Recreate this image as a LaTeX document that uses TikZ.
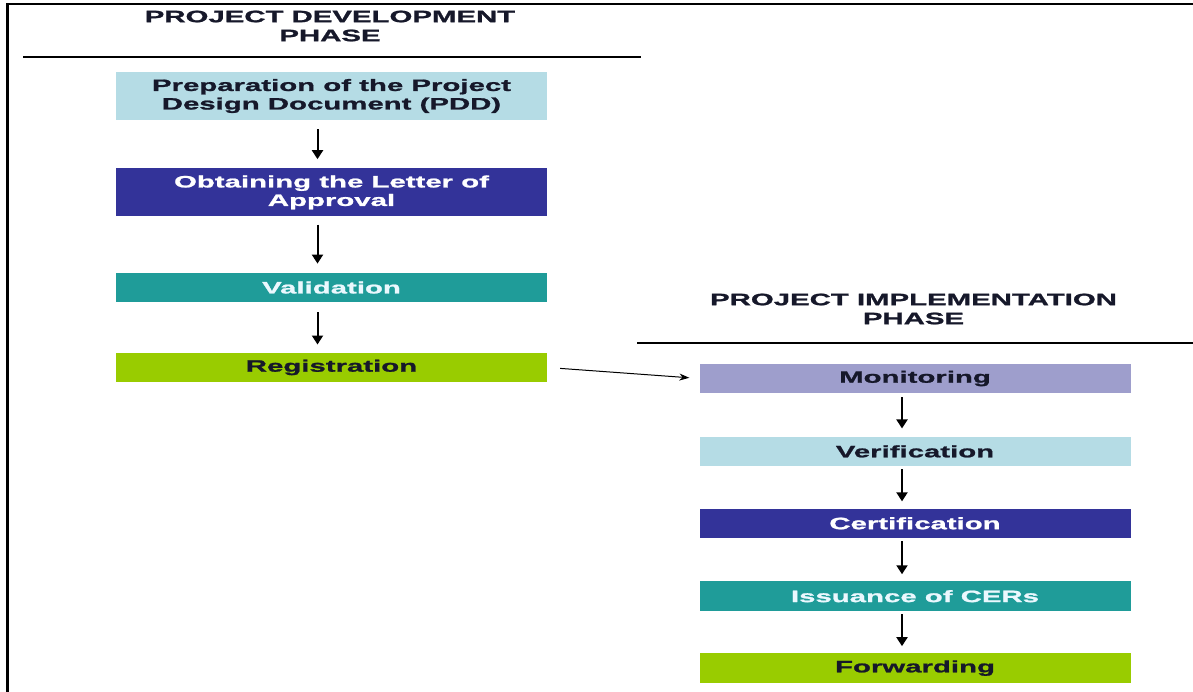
\documentclass[tikz,border=0pt]{standalone}
\usepackage{fontspec}
\newfontfamily\diagfont{Liberation Sans}[FakeStretch=1.78, FakeBold=1.3]
\usepackage{xcolor}
\usepackage{tikz}
\usetikzlibrary{arrows.meta, positioning}

\definecolor{paleblue}{HTML}{B5DCE5}
\definecolor{deepblue}{HTML}{333399}
\definecolor{tealbox}{HTML}{1F9C99}
\definecolor{limebox}{HTML}{99CC00}
\definecolor{lavender}{HTML}{9E9ECC}
\definecolor{darktext}{HTML}{16182A}

\begin{document}
\begin{tikzpicture}[
    x=1pt, y=-1pt,
    box/.style={rectangle, minimum width=431pt, minimum height=29.5pt, inner sep=0pt, align=center,
        font=\diagfont\bfseries\fontsize{16.5}{18.5}\selectfont},
    title/.style={align=center, text=darktext, font=\diagfont\bfseries\fontsize{16.5}{19}\selectfont},
    flow/.style={-{Triangle[length=9pt, width=11pt]}, line width=2pt},
    link/.style={-{Stealth[length=10pt, width=7pt]}, line width=1pt}
]
\useasboundingbox (0,0) rectangle (1193,692);
\fill[white] (0,0) rectangle (1193,692);
\draw[line width=2.5pt] (1193,4) -- (7.5,4) -- (7.5,692);

% development phase
\node[title] (devtitle) at (330,26) {PROJECT DEVELOPMENT\\PHASE};
\draw[line width=1.3pt] (23,57) -- (641,57);
\node[box, fill=paleblue, text=darktext, minimum height=48pt] (pdd) at (331.5,96) {Preparation of the Project\\Design Document (PDD)};
\node[box, fill=deepblue, text=white, minimum height=48pt, below=48pt of pdd] (letter) {Obtaining the Letter of\\Approval};
\node[box, fill=tealbox, text=cyan!8, below=56pt of letter] (validation) {Validation};
\node[box, fill=limebox, text=darktext, below=50pt of validation] (registration) {Registration};
\draw[flow, shorten <=9pt, shorten >=9pt] ([xshift=-14pt]pdd.south) -- ([xshift=-14pt]letter.north);
\draw[flow, shorten <=8pt, shorten >=9pt] ([xshift=-14pt]letter.south) -- ([xshift=-14pt]validation.north);
\draw[flow, shorten <=10pt, shorten >=8pt] ([xshift=-14pt]validation.south) -- ([xshift=-14pt]registration.north);

% implementation phase
\node[title] (imptitle) at (913.5,309) {PROJECT IMPLEMENTATION\\PHASE};
\draw[line width=1.3pt] (637,343) -- (1193,343);
\node[box, fill=lavender, text=darktext] (monitoring) at (915,378.5) {Monitoring};
\node[box, fill=paleblue, text=darktext, below=43pt of monitoring] (verification) {Verification};
\node[box, fill=deepblue, text=white, below=42pt of verification] (certification) {Certification};
\node[box, fill=tealbox, text=cyan!8, below=43pt of certification] (issuance) {Issuance of CERs};
\node[box, fill=limebox, text=darktext, below=42pt of issuance] (forwarding) {Forwarding};
\draw[flow, shorten <=4pt, shorten >=8pt] ([xshift=-13pt]monitoring.south) -- ([xshift=-13pt]verification.north);
\draw[flow, shorten <=3pt, shorten >=7pt] ([xshift=-13pt]verification.south) -- ([xshift=-13pt]certification.north);
\draw[flow, shorten <=3pt, shorten >=7pt] ([xshift=-13pt]certification.south) -- ([xshift=-13pt]issuance.north);
\draw[flow, shorten <=3pt, shorten >=7pt] ([xshift=-13pt]issuance.south) -- ([xshift=-13pt]forwarding.north);

\draw[link, shorten <=13pt, shorten >=10pt] (registration.east) -- (monitoring.west);
\end{tikzpicture}
\end{document}
